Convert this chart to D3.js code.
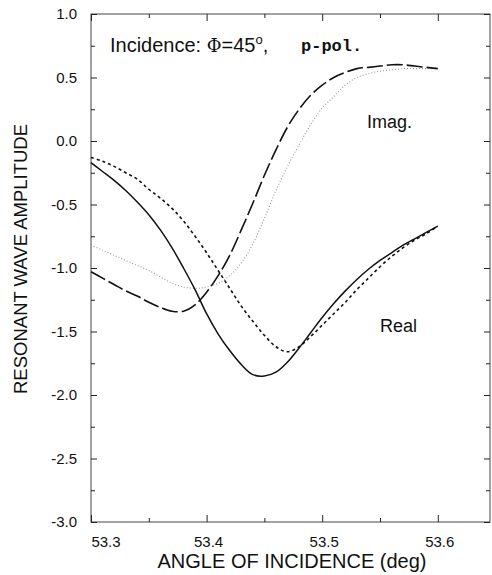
<!DOCTYPE html>
<html>
<head>
<meta charset="utf-8">
<script src="https://cdn.jsdelivr.net/npm/d3@7"></script>
<style>
  body { margin: 0; background: #fff; overflow: hidden; }
  svg { display: block; font-family: "Liberation Sans", Arial, sans-serif; }
</style>
</head>
<body>
<div id="chart"></div>
<script>
// angle of incidence (deg)
const angles = [53.30, 53.31, 53.32, 53.33, 53.34, 53.35, 53.36, 53.37, 53.38, 53.39,
  53.40, 53.41, 53.42, 53.43, 53.44, 53.45, 53.46, 53.47, 53.48, 53.49,
  53.50, 53.51, 53.52, 53.53, 53.54, 53.55, 53.56, 53.57, 53.58, 53.59, 53.60];

// real part, solid curve
const realSolid = [-0.17, -0.24, -0.31, -0.39, -0.48, -0.58, -0.70, -0.84, -1.00, -1.17,
  -1.36, -1.52, -1.65, -1.76, -1.84, -1.85, -1.82, -1.74, -1.63, -1.51,
  -1.39, -1.28, -1.18, -1.09, -1.01, -0.94, -0.88, -0.82, -0.77, -0.72, -0.67];

// real part, short-dashed curve
const realDashed = [-0.13, -0.16, -0.20, -0.25, -0.30, -0.38, -0.45, -0.53, -0.63, -0.75,
  -0.88, -1.02, -1.16, -1.30, -1.42, -1.53, -1.62, -1.66, -1.62, -1.54,
  -1.45, -1.36, -1.27, -1.17, -1.08, -0.99, -0.91, -0.84, -0.78, -0.73, -0.67];

// imaginary part, long-dashed curve
const imagLong = [-1.03, -1.08, -1.13, -1.18, -1.22, -1.27, -1.31, -1.34, -1.34, -1.29,
  -1.19, -1.06, -0.90, -0.70, -0.49, -0.27, -0.07, 0.11, 0.25, 0.36,
  0.44, 0.50, 0.54, 0.57, 0.58, 0.59, 0.60, 0.60, 0.59, 0.58, 0.57];

// imaginary part, dotted curve
const imagDotted = [-0.82, -0.86, -0.90, -0.94, -0.98, -1.02, -1.07, -1.12, -1.15, -1.16,
  -1.15, -1.12, -1.06, -0.96, -0.81, -0.61, -0.39, -0.20, -0.03, 0.13,
  0.26, 0.35, 0.44, 0.50, 0.53, 0.55, 0.56, 0.57, 0.57, 0.57, 0.57];

const xTicks = [53.3, 53.4, 53.5, 53.6];
const xMinor = [53.35, 53.45, 53.55];
const yTicks = [1.0, 0.5, 0.0, -0.5, -1.0, -1.5, -2.0, -2.5, -3.0];
const yMinor = [0.75, 0.25, -0.25, -0.75, -1.25, -1.75, -2.25, -2.75];

const w = 492, h = 575;
const margins = { top: 14, left: 91, bottom: 53, right: 2 };
const innerWidth = w - margins.left - margins.right;
const innerHeight = h - margins.top - margins.bottom;

const xScale = d3.scaleLinear()
  .domain([53.3, 53.3 + innerWidth / 1156])
  .range([0, innerWidth]);

const yScale = d3.scaleLinear()
  .domain([-3, 1])
  .range([innerHeight, 0]);

const svg = d3.select("#chart")
  .append("svg")
  .attr("width", w)
  .attr("height", h);

const mainG = svg.append("g")
  .attr("transform", `translate(${margins.left}, ${margins.top})`);

// frame
mainG.append("rect")
  .attr("width", innerWidth)
  .attr("height", innerHeight)
  .attr("fill", "none")
  .attr("stroke", "#444")
  .attr("stroke-width", 1);

// tick marks only (inward), labels are drawn separately
function tickOnly(g) {
  g.select(".domain").remove();
  g.selectAll(".tick line").attr("stroke", "#222");
  g.selectAll(".tick text").remove();
}

mainG.append("g").attr("transform", `translate(0, ${innerHeight})`)
  .call(d3.axisBottom(xScale).tickValues(xTicks).tickSize(-7))
  .call(tickOnly);
mainG.append("g").attr("transform", `translate(0, ${innerHeight})`)
  .call(d3.axisBottom(xScale).tickValues(xMinor).tickSize(-4))
  .call(tickOnly);
mainG.append("g")
  .call(d3.axisTop(xScale).tickValues(xTicks).tickSize(-7))
  .call(tickOnly);
mainG.append("g")
  .call(d3.axisTop(xScale).tickValues(xMinor).tickSize(-4))
  .call(tickOnly);

mainG.append("g")
  .call(d3.axisLeft(yScale).tickValues(yTicks).tickSize(-6))
  .call(tickOnly);
mainG.append("g")
  .call(d3.axisLeft(yScale).tickValues(yMinor).tickSize(-4))
  .call(tickOnly);
mainG.append("g").attr("transform", `translate(${innerWidth}, 0)`)
  .call(d3.axisRight(yScale).tickValues(yTicks).tickSize(-6))
  .call(tickOnly);
mainG.append("g").attr("transform", `translate(${innerWidth}, 0)`)
  .call(d3.axisRight(yScale).tickValues(yMinor).tickSize(-4))
  .call(tickOnly);

// tick labels
mainG.selectAll("text.xlab")
  .data(xTicks)
  .enter()
  .append("text")
  .attr("class", "xlab")
  .attr("x", (d) => xScale(d) + (d === 53.3 ? 15 : 2))
  .attr("y", innerHeight + 25)
  .attr("text-anchor", "middle")
  .attr("font-size", "15px")
  .attr("fill", "#111")
  .text((d) => d.toFixed(1));

mainG.selectAll("text.ylab")
  .data(yTicks)
  .enter()
  .append("text")
  .attr("class", "ylab")
  .attr("x", -14)
  .attr("y", (d) => yScale(d) + 5)
  .attr("text-anchor", "end")
  .attr("font-size", "15px")
  .attr("fill", "#111")
  .text((d) => d.toFixed(1));

// curves
const line = d3.line()
  .x((d) => xScale(d[0]))
  .y((d) => yScale(d[1]))
  .curve(d3.curveCatmullRom.alpha(0.5));

const series = [
  { values: imagDotted, stroke: "#999", width: 1.1, dash: "1,2" },
  { values: imagLong, stroke: "#111", width: 1.6, dash: "16,4" },
  { values: realDashed, stroke: "#111", width: 1.6, dash: "3,3" },
  { values: realSolid, stroke: "#111", width: 1.5, dash: null }
];

mainG.selectAll("path.curve")
  .data(series)
  .enter()
  .append("path")
  .attr("class", "curve")
  .attr("d", (s) => line(angles.map((a, i) => [a, s.values[i]])))
  .attr("fill", "none")
  .attr("stroke", (s) => s.stroke)
  .attr("stroke-width", (s) => s.width)
  .attr("stroke-dasharray", (s) => s.dash);

// annotations
const title = svg.append("text")
  .attr("x", 110)
  .attr("y", 52)
  .attr("font-size", "20px")
  .attr("fill", "#111");
title.append("tspan").text("Incidence: ");
title.append("tspan").attr("font-family", "DejaVu Serif, serif").attr("font-size", "18px").text("Φ");
title.append("tspan").text("=45");
title.append("tspan").attr("dy", -8).attr("font-size", "13px").text("o");
title.append("tspan").attr("dy", 8).text(",");

svg.append("text")
  .attr("x", 301)
  .attr("y", 51)
  .attr("font-family", "Liberation Mono, DejaVu Sans Mono, monospace")
  .attr("font-weight", "bold")
  .attr("font-size", "17px")
  .attr("fill", "#111")
  .text("p-pol.");

svg.append("text")
  .attr("x", 367)
  .attr("y", 128)
  .attr("font-size", "18px")
  .attr("fill", "#111")
  .text("Imag.");

svg.append("text")
  .attr("x", 380)
  .attr("y", 332)
  .attr("font-size", "18px")
  .attr("fill", "#111")
  .text("Real");

svg.append("text")
  .attr("x", 292)
  .attr("y", 568)
  .attr("text-anchor", "middle")
  .attr("font-size", "20px")
  .attr("fill", "#111")
  .text("ANGLE OF INCIDENCE (deg)");

svg.append("text")
  .attr("transform", "translate(27, 259) rotate(-90)")
  .attr("text-anchor", "middle")
  .attr("font-size", "18.5px")
  .attr("fill", "#111")
  .text("RESONANT WAVE AMPLITUDE");
</script>
</body>
</html>
